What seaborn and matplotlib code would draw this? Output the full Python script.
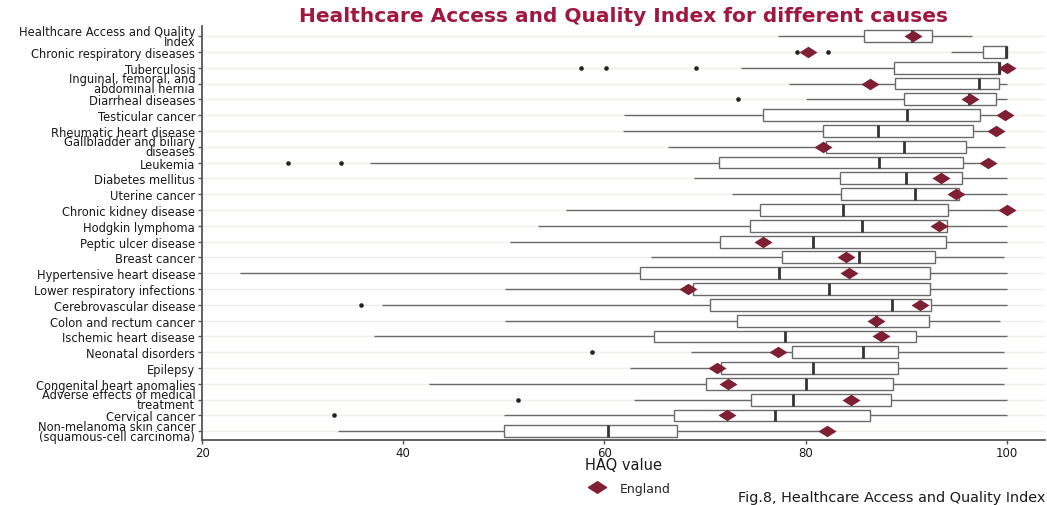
import numpy as np
import pandas as pd
import matplotlib
matplotlib.use("Agg")
import matplotlib.pyplot as plt
import seaborn as sns
from matplotlib.path import Path
from matplotlib.markers import MarkerStyle
from matplotlib.lines import Line2D

# Causes, top to bottom
categories = [
    "Healthcare Access and Quality\nIndex",
    "Chronic respiratory diseases",
    "Tuberculosis",
    "Inguinal, femoral, and\nabdominal hernia",
    "Diarrheal diseases",
    "Testicular cancer",
    "Rheumatic heart disease",
    "Gallbladder and biliary\ndiseases",
    "Leukemia",
    "Diabetes mellitus",
    "Uterine cancer",
    "Chronic kidney disease",
    "Hodgkin lymphoma",
    "Peptic ulcer disease",
    "Breast cancer",
    "Hypertensive heart disease",
    "Lower respiratory infections",
    "Cerebrovascular disease",
    "Colon and rectum cancer",
    "Ischemic heart disease",
    "Neonatal disorders",
    "Epilepsy",
    "Congenital heart anomalies",
    "Adverse effects of medical\ntreatment",
    "Cervical cancer",
    "Non-melanoma skin cancer\n(squamous-cell carcinoma)",
]

# Five-number summaries of HAQ values across countries
whisker_low = [77.3, 94.5, 73.6, 78.4, 80.0, 62.0, 61.9, 66.3, 36.7, 68.9, 72.7, 56.2, 53.4,
               50.6, 64.6, 23.8, 50.1, 37.9, 50.1, 37.1, 68.6, 62.5, 42.6, 62.9, 50.0, 33.5]
q1 = [85.8, 97.6, 88.8, 88.9, 89.8, 75.8, 81.7, 82.0, 71.4, 83.4, 83.5, 75.5, 74.5,
      71.5, 77.7, 63.5, 68.8, 70.5, 73.2, 64.9, 78.7, 71.6, 70.1, 74.6, 66.9, 50.0]
median = [90.6, 99.9, 99.2, 97.2, 96.3, 90.1, 87.2, 89.8, 87.3, 90.0, 90.9, 83.7, 85.6,
          80.7, 85.3, 77.4, 82.3, 88.6, 87.0, 78.0, 85.7, 80.7, 80.0, 78.8, 77.0, 60.4]
q3 = [92.6, 100.0, 99.3, 99.2, 98.9, 97.3, 96.7, 96.0, 95.7, 95.6, 95.3, 94.2, 94.1,
      94.0, 92.9, 92.4, 92.4, 92.5, 92.3, 91.0, 89.2, 89.2, 88.7, 88.5, 86.4, 67.2]
whisker_high = [96.6, 100.0, 99.3, 100.0, 100.0, 99.8, 99.0, 99.8, 97.9, 100.0, 100.0, 100.0, 100.0,
                100.0, 99.7, 100.0, 100.0, 100.0, 99.3, 100.0, 99.7, 100.0, 99.7, 100.0, 100.0, 81.8]

# Outlying countries
outlier_cause = [
    "Chronic respiratory diseases", "Chronic respiratory diseases",
    "Tuberculosis", "Tuberculosis", "Tuberculosis",
    "Diarrheal diseases",
    "Leukemia", "Leukemia",
    "Cerebrovascular disease",
    "Neonatal disorders",
    "Adverse effects of medical\ntreatment",
    "Cervical cancer",
]
outlier_value = [79.2, 82.2, 57.7, 60.2, 69.1, 73.3, 28.5, 33.8, 35.8, 58.8, 51.4, 33.1]

# England's value for each cause
england = [90.7, 80.2, 100.0, 86.4, 96.4, 99.8, 98.9, 81.7, 98.1, 93.5, 95.0, 100.0, 93.3,
           75.8, 84.0, 84.3, 68.3, 91.4, 87.0, 87.5, 77.3, 71.2, 72.3, 84.5, 72.2, 82.1]

MAROON = "#7E1F33"
TITLE_RED = "#A0173F"

sns.set_theme(style="white")
plt.rcParams["font.family"] = ["DejaVu Sans"]

fig = plt.figure(figsize=(10.47, 5.06), dpi=100)
ax = fig.add_axes([0.193, 0.1285, 0.805, 0.8185])

box_df = pd.DataFrame({
    "cause": np.repeat(categories, 5),
    "haq": np.column_stack([whisker_low, q1, median, q3, whisker_high]).ravel(),
})

sns.boxplot(
    data=box_df, x="haq", y="cause", order=categories,
    whis=(0, 100), showfliers=False, showcaps=False, width=0.75,
    color="white", linecolor="#6a6a6a", linewidth=1.0,
    medianprops={"color": "#333333", "linewidth": 2.0},
    ax=ax, zorder=2,
)

sns.stripplot(
    x=outlier_value, y=outlier_cause, order=categories, jitter=False,
    size=3.3, color="#222222", linewidth=0, ax=ax, zorder=3,
)

diamond = MarkerStyle(Path([(-1, 0), (0, 0.64), (1, 0), (0, -0.64), (-1, 0)], closed=True))
sns.stripplot(
    x=england, y=categories, order=categories, jitter=False,
    marker=diamond, size=13, color=MAROON, linewidth=0, ax=ax, zorder=4,
)

ax.set_xlim(20, 103.8)
ax.set_ylim(25.55, -0.65)
ax.set_xticks([20, 40, 60, 80, 100])
ax.set_ylabel("")
ax.set_xlabel("HAQ value", fontsize=10.5, color="#1a1a1a")
ax.xaxis.set_label_coords(0.5, -0.041)

ax.grid(axis="y", color="#EFEFE2", linewidth=1.0)
ax.grid(axis="x", visible=False)
ax.set_axisbelow(True)

for side in ("top", "right"):
    ax.spines[side].set_visible(False)
for side in ("left", "bottom"):
    ax.spines[side].set_color("#555555")
    ax.spines[side].set_linewidth(1.3)

ax.tick_params(axis="both", which="major", length=3, width=1, color="#555555",
               labelcolor="#1a1a1a", left=True, bottom=True, pad=2)
ax.tick_params(axis="x", labelsize=8.5, pad=1.5)
ax.tick_params(axis="y", labelsize=8.3)
for lbl in ax.get_yticklabels():
    lbl.set_linespacing(0.72)

fig.text(0.5955, 0.968, "Healthcare Access and Quality Index for different causes",
         ha="center", va="center", fontsize=14.5, fontweight="bold", color=TITLE_RED)

handle = Line2D([], [], marker=diamond, color=MAROON, linestyle="none", markersize=13)
ax.legend([handle], ["England"], loc="center", bbox_to_anchor=(0.505, -0.116),
          frameon=False, fontsize=9, handletextpad=0.8)

fig.text(0.998, 0.016, "Fig.8, Healthcare Access and Quality Index",
         ha="right", va="center", fontsize=10.4, color="#1a1a1a")

fig.savefig("out.png", dpi=100)
